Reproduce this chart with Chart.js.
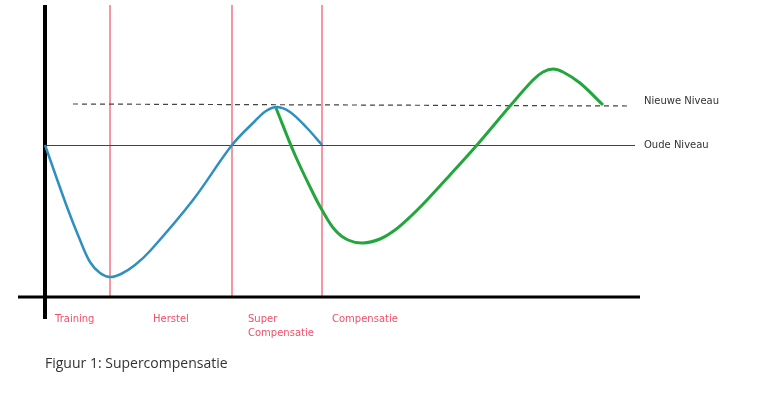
<!DOCTYPE html>
<html>
<head>
<meta charset="utf-8">
<script src="https://cdn.jsdelivr.net/npm/chart.js@4"></script>
<style>
html,body{margin:0;padding:0;background:#fff;}
#wrap{position:relative;width:761px;height:414px;}
#caption{position:absolute;left:45px;top:353px;font-family:"Open Sans",sans-serif;font-size:14px;color:#333;}
</style>
</head>
<body>
<div id="wrap">
<canvas id="c" width="761" height="414"></canvas>
<div id="caption">Figuur 1: Supercompensatie</div>
</div>
<script>
// Time (x) and performance level (y), in arbitrary units
const blueX = [0, 22, 35, 45, 55, 65, 76, 90, 105, 148, 187, 210, 221, 232, 245, 262, 277];
const blueY = [152, 90, 57, 35, 24, 20, 23, 32, 46, 97, 152, 176, 186, 190, 185, 169, 152];
const greenX = [231, 250, 268, 277, 290, 303, 318, 335, 350, 365, 382, 405, 432, 465, 488, 498, 508, 518, 535, 558];
const greenY = [189, 142, 104, 87, 67, 57, 54, 58, 67, 80, 97, 122, 152, 191, 217, 225, 228, 225, 214, 192];
const oudeNiveau = 152;
const nieuweNiveau = 192;
const oudeRange = [0, 590];
const nieuweRange = [28, 584];
const phaseBounds = [65, 187, 277];
const phaseLabels = [
  {x: 10, lines: ['Training']},
  {x: 108, lines: ['Herstel']},
  {x: 203, lines: ['Super', 'Compensatie']},
  {x: 287, lines: ['Compensatie']}
];
const levelLabels = ['Nieuwe Niveau', 'Oude Niveau'];

const toPts = (xs, ys) => xs.map((x, i) => ({x, y: ys[i]}));

const overlay = {
  id: 'overlay',
  beforeDatasetsDraw(chart) {
    const {ctx, scales: {x, y}} = chart;
    ctx.save();
    ctx.strokeStyle = '#f27583';
    ctx.lineWidth = 1.5;
    phaseBounds.forEach(b => {
      const px = x.getPixelForValue(b);
      ctx.beginPath();
      ctx.moveTo(px, y.getPixelForValue(0));
      ctx.lineTo(px, y.getPixelForValue(y.max));
      ctx.stroke();
    });
    ctx.strokeStyle = '#444';
    ctx.lineWidth = 1;
    ctx.beginPath();
    ctx.moveTo(x.getPixelForValue(oudeRange[0]), Math.round(y.getPixelForValue(oudeNiveau)) + 0.5);
    ctx.lineTo(x.getPixelForValue(oudeRange[1]), Math.round(y.getPixelForValue(oudeNiveau)) + 0.5);
    ctx.stroke();
    ctx.strokeStyle = '#444';
    ctx.lineWidth = 1.2;
    ctx.setLineDash([5, 4]);
    ctx.beginPath();
    ctx.moveTo(x.getPixelForValue(nieuweRange[0]), y.getPixelForValue(nieuweNiveau + 1));
    ctx.lineTo(x.getPixelForValue(nieuweRange[1]), y.getPixelForValue(nieuweNiveau - 1));
    ctx.stroke();
    ctx.setLineDash([]);
    ctx.strokeStyle = '#000';
    ctx.lineWidth = 3;
    ctx.beginPath();
    ctx.moveTo(x.getPixelForValue(x.min), y.getPixelForValue(0));
    ctx.lineTo(x.getPixelForValue(x.max), y.getPixelForValue(0));
    ctx.stroke();
    ctx.lineWidth = 4;
    ctx.beginPath();
    ctx.moveTo(x.getPixelForValue(0), y.getPixelForValue(y.min));
    ctx.lineTo(x.getPixelForValue(0), y.getPixelForValue(y.max));
    ctx.stroke();
    ctx.restore();
  },
  afterDatasetsDraw(chart) {
    const {ctx, scales: {x, y}} = chart;
    ctx.save();
    ctx.textBaseline = 'middle';
    ctx.textAlign = 'left';
    ctx.font = '10px "DejaVu Sans", sans-serif';
    ctx.fillStyle = '#f0506a';
    phaseLabels.forEach(l => {
      l.lines.forEach((t, i) => {
        ctx.fillText(t, x.getPixelForValue(l.x), y.getPixelForValue(0) + 22 + i * 14);
      });
    });
    ctx.font = '10px "DejaVu Sans", sans-serif';
    ctx.fillStyle = '#333';
    const lx = x.getPixelForValue(oudeRange[1]) + 9;
    ctx.fillText(levelLabels[0], lx, y.getPixelForValue(nieuweNiveau) - 4);
    ctx.fillText(levelLabels[1], lx, y.getPixelForValue(oudeNiveau));
    ctx.restore();
  }
};

new Chart(document.getElementById('c'), {
  type: 'line',
  data: {
    datasets: [
      {data: toPts(blueX, blueY), borderColor: '#2f8fbf', borderWidth: 2.5, pointRadius: 0, tension: 0.35, fill: false},
      {data: toPts(greenX, greenY), borderColor: '#23a63c', borderWidth: 3, pointRadius: 0, tension: 0.35, fill: false}
    ]
  },
  options: {
    responsive: false,
    animation: false,
    layout: {padding: {left: 18, right: 121, top: 5, bottom: 95}},
    plugins: {legend: {display: false}, tooltip: {enabled: false}},
    scales: {
      x: {type: 'linear', min: -27, max: 595, display: false},
      y: {type: 'linear', min: -22, max: 292, display: false}
    }
  },
  plugins: [overlay]
});
</script>
</body>
</html>
